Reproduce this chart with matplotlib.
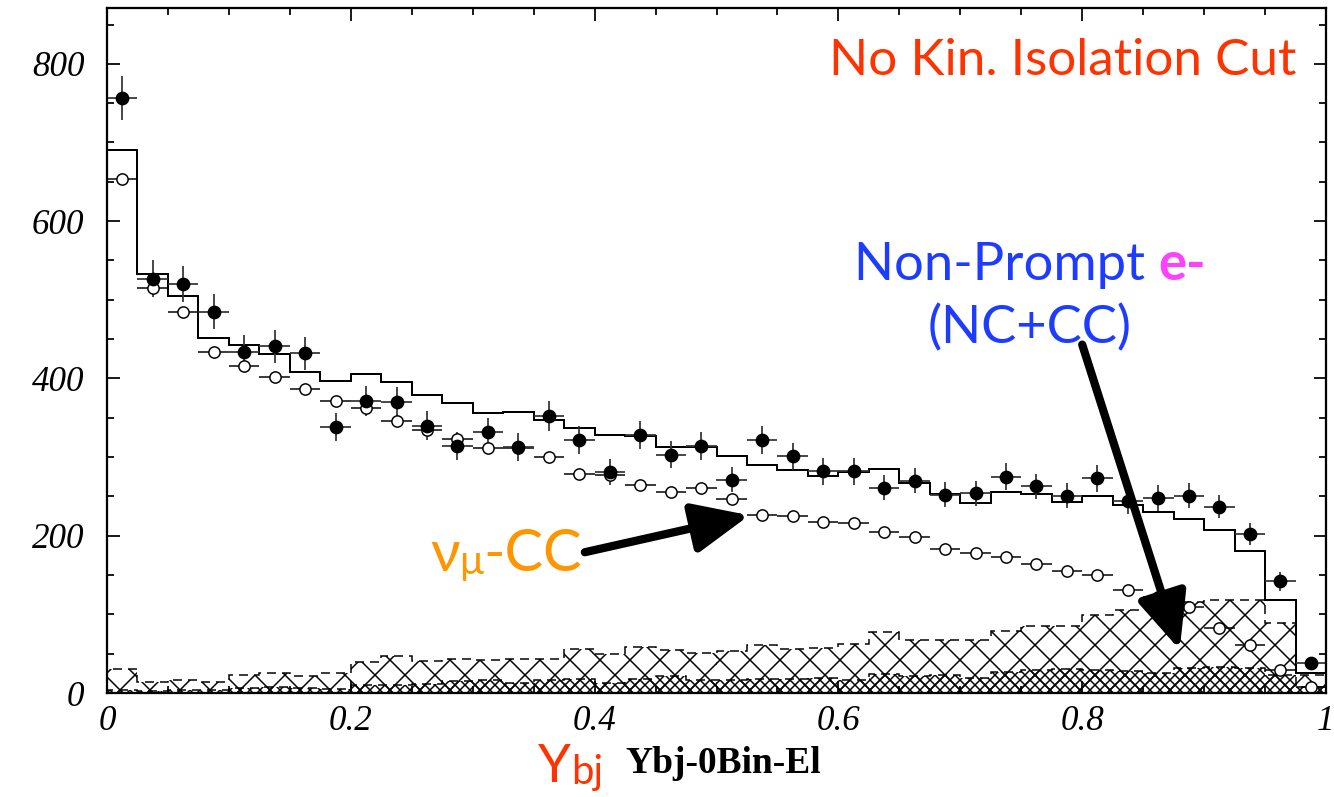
import numpy as np
import matplotlib.pyplot as plt
from matplotlib.ticker import MultipleLocator, FixedLocator

# 40 bins in Ybj
bin_edges = np.linspace(0.0, 1.0, 41)

data = [757, 527, 520, 485, 434, 441, 432, 338, 371, 370, 340, 314, 332, 313, 352, 322, 281, 328, 303, 314,
        271, 322, 301, 282, 282, 261, 270, 252, 254, 275, 263, 251, 273, 244, 248, 251, 237, 202, 142, 38]
data_err = [28, 23, 23, 22, 21, 21, 21, 18, 19, 19, 18, 18, 18, 18, 19, 18, 17, 18, 17, 18,
            16, 18, 17, 17, 17, 16, 16, 16, 16, 17, 16, 16, 17, 16, 16, 16, 15, 14, 12, 6]
mc_total = [691, 533, 505, 451, 442, 431, 408, 397, 405, 396, 379, 369, 356, 357, 347, 337, 328, 327, 313, 313,
            301, 290, 284, 276, 281, 285, 267, 253, 242, 256, 253, 243, 251, 239, 230, 221, 207, 181, 118, 26]
numu_cc = [654, 515, 485, 434, 416, 402, 386, 371, 363, 346, 335, 323, 312, 311, 300, 279, 277, 265, 256, 261,
           247, 226, 225, 217, 216, 205, 198, 183, 178, 173, 164, 155, 150, 131, 122, 109, 83, 61, 29, 8]
nonprompt_a = [31, 14, 17, 14, 23, 26, 21, 25, 39, 47, 41, 43, 42, 43, 43, 56, 50, 59, 55, 51,
               53, 61, 56, 57, 62, 77, 67, 67, 67, 79, 85, 85, 99, 106, 106, 116, 118, 118, 89, 23]
nonprompt_b = [4, 3, 4, 4, 6, 7, 6, 5, 10, 10, 11, 15, 16, 13, 16, 18, 13, 18, 22, 16,
               17, 18, 18, 19, 17, 24, 21, 23, 19, 27, 29, 30, 29, 28, 25, 32, 33, 32, 23, 8]

centers = 0.5 * (bin_edges[1:] + bin_edges[:-1])
half = 0.5 * np.diff(bin_edges)

plt.rcParams['hatch.linewidth'] = 0.6
serif = 'Liberation Serif'
sans = 'Lato'

fig = plt.figure(figsize=(1334 / 180, 797 / 180), dpi=180)
ax = fig.add_axes([107 / 1334, 1 - 693 / 797, 1219 / 1334, 685 / 797])

dash = (0, (6, 4))
ax.bar(centers, nonprompt_a, width=np.diff(bin_edges), fill=False, hatch='xx', edgecolor='k', linewidth=0)
ax.stairs(nonprompt_a, bin_edges, color='k', lw=0.6, linestyle=dash)
ax.bar(centers, nonprompt_b, width=np.diff(bin_edges), fill=False, hatch='xxxxxx', edgecolor='k', linewidth=0)
ax.stairs(nonprompt_b, bin_edges, color='k', lw=0.6, linestyle=dash)

ax.stairs(mc_total, bin_edges, color='k', lw=0.8)

ax.errorbar(centers, numu_cc, xerr=half, fmt='o', mfc='white', mec='k', ms=4.5, mew=0.6,
            ecolor='k', elinewidth=0.6, capsize=0)
ax.errorbar(centers, data, xerr=half, yerr=data_err, fmt='o', color='k', ms=4.5,
            ecolor='#333333', elinewidth=0.7, capsize=0)

ax.set_xlim(0, 1)
ax.set_ylim(0, 871)
ax.xaxis.set_major_locator(FixedLocator([0, 0.2, 0.4, 0.6, 0.8, 1.0]))
ax.xaxis.set_minor_locator(MultipleLocator(0.05))
ax.yaxis.set_major_locator(MultipleLocator(200))
ax.yaxis.set_minor_locator(MultipleLocator(50))
ax.set_xticklabels(['0', '0.2', '0.4', '0.6', '0.8', '1'])
ax.tick_params(which='both', direction='in', top=True, right=True)
ax.tick_params(which='major', length=5, width=0.7)
ax.tick_params(which='minor', length=2.8, width=0.7)
ax.tick_params(axis='x', pad=5)
ax.tick_params(axis='y', pad=9)
for lab in ax.get_xticklabels() + ax.get_yticklabels():
    lab.set_fontfamily(serif)
    lab.set_fontstyle('italic')
    lab.set_fontsize(14)
for sp in ax.spines.values():
    sp.set_linewidth(0.9)

# annotations
ax.text(0.976, 786, 'No Kin. Isolation Cut', color='#FF3300', fontsize=20.5, family=sans,
        ha='right', va='baseline')
t1 = ax.text(0.613, 525, 'Non-Prompt ', color='#1E3CFF', fontsize=21, family=sans, va='baseline')
ax.annotate('e-', xy=(1, 0), xycoords=t1, color='#FF40FF', fontsize=21, family=sans,
            fontweight='bold', va='bottom')
ax.text(0.757, 445, '(NC+CC)', color='#1E3CFF', fontsize=21, family=sans, ha='center', va='baseline')

t2 = ax.text(0.265, 155, 'ν', color='#FF9500', fontsize=23, family=sans, va='baseline')
t3 = ax.annotate('μ', xy=(1, 0), xycoords=t2, color='#FF9500', fontsize=16, family=sans, va='bottom')
ax.annotate('-CC', xy=(1, 0), xycoords=t3, color='#FF9500', fontsize=23, family=sans, va='bottom')

arrow = dict(arrowstyle='-|>,head_length=0.95,head_width=0.42', lw=3.3, color='k',
             shrinkA=0, shrinkB=0, mutation_scale=20)
ax.annotate('', xy=(0.527, 226), xytext=(0.392, 179), arrowprops=arrow)
ax.annotate('', xy=(0.880, 55), xytext=(0.800, 443), arrowprops=arrow)

# x axis label
t4 = ax.text(0.3536, -0.13, 'Y', transform=ax.transAxes, color='#FF3300', fontsize=21,
             family=sans, va='baseline')
ax.annotate('bj', xy=(1, 0), xycoords=t4, color='#FF3300', fontsize=16, family=sans, va='bottom')
ax.text(0.4255, -0.117, 'Ybj-0Bin-El', transform=ax.transAxes, color='k', fontsize=15,
        family=serif, fontweight='bold', va='baseline')

fig.savefig('out.png', dpi=180)
